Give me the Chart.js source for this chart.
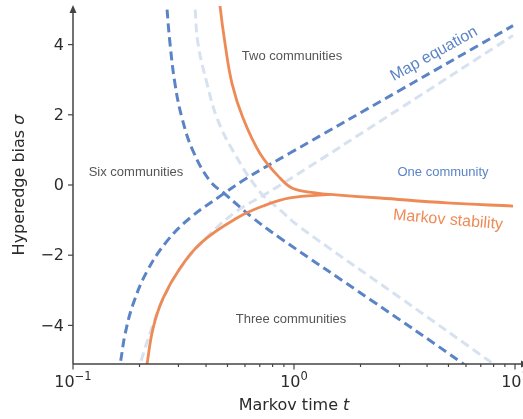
<!DOCTYPE html>
<html>
<head>
<meta charset="utf-8">
<script src="https://cdn.jsdelivr.net/npm/chart.js@4"></script>
<style>
  html, body { margin: 0; padding: 0; background: #fff; }
  canvas { display: block; }
</style>
</head>
<body>
<canvas id="chart" width="523" height="419"></canvas>
<script>
// Markov time t (log axis) and hyperedge bias sigma
const mapUpT = [0.158, 0.1632, 0.1719, 0.1869, 0.2162, 0.2662, 0.3383, 0.4773, 0.6128, 0.9592, 3.017, 9.795];
const mapUpS = [-5.4, -5.11, -4.26, -3.40, -2.46, -1.60, -0.94, -0.26, 0.20, 0.91, 2.70, 4.54];

const mapDownT = [0.264, 0.266, 0.2748, 0.2893, 0.3113, 0.3491, 0.4169, 0.4874, 0.6524, 0.8644, 2.208, 5.818, 6.0];
const mapDownS = [5.4, 5.06, 4.03, 2.89, 1.91, 0.97, 0.11, -0.26, -0.94, -1.51, -3.26, -5.09, -5.2];

const altUpT = [0.196, 0.2010, 0.2301, 0.2528, 0.3113, 0.4169, 0.5522, 0.7242, 0.9592, 3.017, 9.795];
const altUpS = [-5.4, -5.11, -3.97, -3.31, -2.31, -1.40, -0.74, -0.30, 0.17, 2.18, 4.26];

const altDownT = [0.354, 0.3565, 0.3678, 0.4040, 0.4483, 0.5297, 0.7018, 0.8644, 1.064, 3.017, 8.29];
const altDownS = [5.4, 5.09, 4.03, 2.89, 1.91, 0.97, -0.20, -0.71, -1.20, -3.21, -5.17];

const msTopT = [0.460, 0.4624, 0.4874, 0.5242, 0.5877, 0.7018, 0.8644, 0.9897, 1.271, 1.455, 2.449, 4.923, 9.795];
const msTopS = [5.4, 5.11, 4.03, 2.89, 1.91, 0.90, 0.20, -0.10, -0.23, -0.27, -0.37, -0.51, -0.60];

const msBottomT = [0.213, 0.2162, 0.2301, 0.2554, 0.3049, 0.3875, 0.5522, 0.7242, 0.9592, 1.455];
const msBottomS = [-5.4, -5.11, -4.09, -3.23, -2.37, -1.60, -0.94, -0.60, -0.37, -0.27];

const yTicks = [-4, -2, 0, 2, 4];
const xDecades = [-1, 0, 1];

const BLUE = '#5b84c6';
const LIGHT = '#d7e2f1';
const ORANGE = '#ee8a55';
const INK = '#2b2b2b';

const pts = (ts, ss) => ts.map((t, i) => ({ x: t, y: ss[i] }));

function line(ts, ss, color, dashed, order) {
  return {
    data: pts(ts, ss),
    borderColor: color,
    borderWidth: dashed ? 3 : 2.8,
    borderDash: dashed ? [9, 5] : [],
    borderCapStyle: 'butt',
    pointRadius: 0,
    fill: false,
    tension: 0.4,
    order: order,
  };
}

function txt(ctx, s, x, y, font, color, angle, align) {
  ctx.save();
  ctx.translate(x, y);
  ctx.rotate((angle || 0) * Math.PI / 180);
  ctx.font = font;
  ctx.fillStyle = color;
  ctx.textAlign = align || 'center';
  ctx.textBaseline = 'middle';
  ctx.fillText(s, 0, 0);
  ctx.restore();
}

const axesPlugin = {
  id: 'axesPlugin',
  afterDraw(chart) {
    const ctx = chart.ctx;
    const xs = chart.scales.x, ys = chart.scales.y;
    const area = chart.chartArea;
    const x0 = area.left, y0 = area.bottom;

    ctx.save();
    ctx.strokeStyle = '#444';
    ctx.fillStyle = '#444';
    ctx.lineWidth = 1.5;
    // spines
    ctx.beginPath();
    ctx.moveTo(x0, y0); ctx.lineTo(x0, area.top + 2);
    ctx.moveTo(x0, y0); ctx.lineTo(area.right, y0);
    ctx.stroke();
    // arrows
    ctx.beginPath();
    ctx.moveTo(x0, area.top - 1); ctx.lineTo(x0 - 3.5, area.top + 7); ctx.lineTo(x0 + 3.5, area.top + 7);
    ctx.closePath(); ctx.fill();
    ctx.beginPath();
    ctx.moveTo(area.right + 6, y0); ctx.lineTo(area.right - 2, y0 - 3.5); ctx.lineTo(area.right - 2, y0 + 3.5);
    ctx.closePath(); ctx.fill();

    // y ticks
    ctx.lineWidth = 1.2;
    yTicks.forEach(v => {
      const py = ys.getPixelForValue(v);
      ctx.beginPath(); ctx.moveTo(x0, py); ctx.lineTo(x0 - 5, py); ctx.stroke();
      txt(ctx, v < 0 ? '\u2212' + Math.abs(v) : String(v), x0 - 9, py + 1, '16px "DejaVu Sans"', INK, 0, 'right');
    });

    // x ticks, major and minor
    for (let d = -1; d <= 1; d++) {
      for (let m = 1; m <= 9; m++) {
        const v = m * Math.pow(10, d);
        if (v < xs.min || v > xs.max) continue;
        const px = xs.getPixelForValue(v);
        ctx.beginPath(); ctx.moveTo(px, y0); ctx.lineTo(px, y0 + (m === 1 ? 5.5 : 3)); ctx.stroke();
      }
    }
    xDecades.forEach(d => {
      const px = xs.getPixelForValue(Math.pow(10, d));
      const exp = d < 0 ? '\u2212' + Math.abs(d) : String(d);
      ctx.font = '16px "DejaVu Sans"';
      const wBase = ctx.measureText('10').width;
      ctx.font = '11.5px "DejaVu Sans"';
      const wExp = ctx.measureText(exp).width;
      const start = px - (wBase + wExp) / 2;
      txt(ctx, '10', start, y0 + 19, '16px "DejaVu Sans"', INK, 0, 'left');
      txt(ctx, exp, start + wBase, y0 + 13, '11.5px "DejaVu Sans"', INK, 0, 'left');
    });

    // axis titles
    ctx.font = '16px "DejaVu Sans"';
    const a = 'Markov time ', wA = ctx.measureText(a).width;
    ctx.font = 'italic 16px "DejaVu Sans"';
    const wT = ctx.measureText('t').width;
    const cx = xs.getPixelForValue(1);
    txt(ctx, a, cx - (wA + wT) / 2, 406, '16px "DejaVu Sans"', INK, 0, 'left');
    txt(ctx, 't', cx - (wA + wT) / 2 + wA, 406, 'italic 16px "DejaVu Sans"', INK, 0, 'left');

    ctx.font = '16px "DejaVu Sans"';
    const b = 'Hyperedge bias ', wB = ctx.measureText(b).width;
    ctx.font = 'italic 16px "DejaVu Sans"';
    const wS = ctx.measureText('\u03c3').width;
    const cy = ys.getPixelForValue(0);
    ctx.save();
    ctx.translate(20, cy);
    ctx.rotate(-Math.PI / 2);
    txt(ctx, b, -(wB + wS) / 2, 0, '16px "DejaVu Sans"', INK, 0, 'left');
    txt(ctx, '\u03c3', -(wB + wS) / 2 + wB, 0, 'italic 16px "DejaVu Sans"', INK, 0, 'left');
    ctx.restore();

    // region labels
    const small = '13px "Liberation Sans"';
    txt(ctx, 'Two communities', 292, 56, small, '#555', 0);
    txt(ctx, 'Six communities', 136, 172, small, '#555', 0);
    txt(ctx, 'Three communities', 291, 319, small, '#555', 0);
    txt(ctx, 'One community', 443, 172, small, BLUE, 0);
    txt(ctx, 'Map equation', 434, 54, '16px "Liberation Sans"', BLUE, -29);
    txt(ctx, 'Markov stability', 448, 220, '16px "Liberation Sans"', ORANGE, 5);
    ctx.restore();
  }
};

new Chart(document.getElementById('chart'), {
  type: 'line',
  data: {
    datasets: [
      line(altUpT, altUpS, LIGHT, true, 3),
      line(altDownT, altDownS, LIGHT, true, 3),
      line(mapUpT, mapUpS, BLUE, true, 2),
      line(mapDownT, mapDownS, BLUE, true, 2),
      line(msTopT, msTopS, ORANGE, false, 1),
      line(msBottomT, msBottomS, ORANGE, false, 1),
    ]
  },
  options: {
    responsive: false,
    animation: false,
    parsing: false,
    layout: { padding: { left: 73, right: 0, top: 6, bottom: 55 } },
    scales: {
      x: { type: 'logarithmic', min: 0.1, max: Math.pow(10, -1 + 450 / 221), display: false },
      y: { type: 'linear', min: -5.1, max: 5.1, display: false }
    },
    plugins: { legend: { display: false }, tooltip: { enabled: false } }
  },
  plugins: [axesPlugin]
});
</script>
</body>
</html>
